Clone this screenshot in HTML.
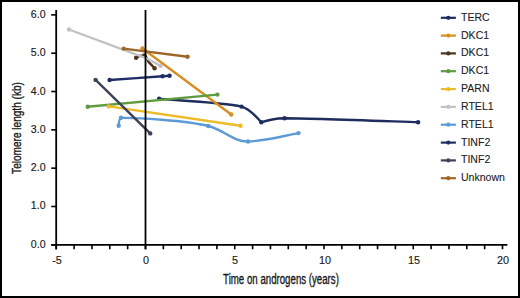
<!DOCTYPE html>
<html><head><meta charset="utf-8"><style>
html,body{margin:0;padding:0;background:#fff;}
body{width:520px;height:298px;position:relative;overflow:hidden;font-family:"Liberation Sans",sans-serif;color:#1a1a1a;}
svg{position:absolute;left:0;top:0;}
.yl{-webkit-text-stroke:0.15px #1a1a1a;position:absolute;right:474.1px;font-size:11.2px;line-height:14px;transform:scaleX(0.945);transform-origin:right center;white-space:nowrap;}
.xl{-webkit-text-stroke:0.15px #1a1a1a;position:absolute;top:253px;width:40px;text-align:center;font-size:11.2px;line-height:14px;transform:scaleX(0.97);white-space:nowrap;}
.lg{-webkit-text-stroke:0.1px #222;color:#222;position:absolute;left:460.6px;font-size:11.1px;line-height:14px;transform:scaleX(0.95);transform-origin:left center;white-space:nowrap;}
.xt{-webkit-text-stroke:0.35px #1a1a1a;position:absolute;left:180.7px;width:200px;top:271px;text-align:center;font-size:14px;line-height:16px;transform:scaleX(0.691);white-space:nowrap;}
.yt{position:absolute;left:17.4px;top:127.5px;width:0;height:0;}
.yt span{-webkit-text-stroke:0.35px #1a1a1a;position:absolute;left:0;top:0;transform:translate(-50%,-50%) rotate(-90deg) scaleX(0.752);font-size:13.4px;line-height:16px;white-space:nowrap;}
</style></head><body>
<svg width="520" height="298" viewBox="0 0 520 298">
<rect x="1" y="1" width="518" height="296" fill="none" stroke="#000" stroke-width="2"/>
<path d="M159.1,98.8 C172.8,100.05 224.5,102.6 241.5,106.6 C247.5,108.1 255,115 261.3,122.3 C266,120.6 276,118.4 284.5,118.2 C310.6,118.2 395.8,121.5 418.1,122.2" fill="none" stroke="#1e2c5e" stroke-width="2.4" stroke-linejoin="round" stroke-linecap="round"/>
<circle cx="159.1" cy="98.8" r="2.2" fill="#1e2c5e"/>
<circle cx="241.5" cy="106.6" r="2.2" fill="#1e2c5e"/>
<circle cx="261.3" cy="122.3" r="2.2" fill="#1e2c5e"/>
<circle cx="284.5" cy="118.2" r="2.2" fill="#1e2c5e"/>
<circle cx="418.1" cy="122.2" r="2.2" fill="#1e2c5e"/>
<path d="M142.5,48.5 L231.2,114.5" fill="none" stroke="#d68e20" stroke-width="2.4" stroke-linejoin="round" stroke-linecap="round"/>
<circle cx="142.5" cy="48.5" r="2.2" fill="#d68e20"/>
<circle cx="231.2" cy="114.5" r="2.2" fill="#d68e20"/>
<path d="M136.1,57.7 C138.5,56.2 141,55.3 144.4,55.4 C146.6,55.5 147,59.8 148.7,62.2 L154.6,68.2" fill="none" stroke="#4d3419" stroke-width="2.4" stroke-linejoin="round" stroke-linecap="round"/>
<circle cx="136.1" cy="57.7" r="2.2" fill="#4d3419"/>
<circle cx="144.4" cy="55.4" r="2.2" fill="#4d3419"/>
<circle cx="154.6" cy="68.2" r="2.2" fill="#4d3419"/>
<path d="M87.7,106.8 L217.4,94.6" fill="none" stroke="#5f9c40" stroke-width="2.4" stroke-linejoin="round" stroke-linecap="round"/>
<circle cx="87.7" cy="106.8" r="2.2" fill="#5f9c40"/>
<circle cx="217.4" cy="94.6" r="2.2" fill="#5f9c40"/>
<path d="M108.8,106.4 L240.5,125.8" fill="none" stroke="#ecbb28" stroke-width="2.4" stroke-linejoin="round" stroke-linecap="round"/>
<circle cx="108.8" cy="106.4" r="2.2" fill="#ecbb28"/>
<circle cx="240.5" cy="125.8" r="2.2" fill="#ecbb28"/>
<path d="M69,29.5 L146.5,58.3 L160.6,65.9" fill="none" stroke="#c2c2c4" stroke-width="2.4" stroke-linejoin="round" stroke-linecap="round"/>
<circle cx="69" cy="29.5" r="2.2" fill="#c2c2c4"/>
<circle cx="160.6" cy="65.9" r="2.2" fill="#c2c2c4"/>
<path d="M118.7,125.7 C118.8,121.5 119.2,118.2 121.5,117.9 C135,117.6 186,120.5 208.3,126.0 C223,129.5 234,142 248.0,141.5 C265,141 283,136 298.5,133.1" fill="none" stroke="#5c9bd5" stroke-width="2.4" stroke-linejoin="round" stroke-linecap="round"/>
<circle cx="118.7" cy="125.7" r="2.2" fill="#5c9bd5"/>
<circle cx="121.0" cy="117.8" r="2.2" fill="#5c9bd5"/>
<circle cx="208.3" cy="126.0" r="2.2" fill="#5c9bd5"/>
<circle cx="248.0" cy="141.5" r="2.2" fill="#5c9bd5"/>
<circle cx="298.5" cy="133.1" r="2.2" fill="#5c9bd5"/>
<path d="M109.6,80.0 C118.4,79.4 152.5,76.9 162.5,76.2 C172.5,75.5 168.4,75.9 169.6,75.8" fill="none" stroke="#1c2e64" stroke-width="2.4" stroke-linejoin="round" stroke-linecap="round"/>
<circle cx="109.6" cy="80.0" r="2.2" fill="#1c2e64"/>
<circle cx="162.5" cy="76.2" r="2.2" fill="#1c2e64"/>
<circle cx="169.6" cy="75.8" r="2.2" fill="#1c2e64"/>
<path d="M95.6,79.9 L150.2,133.4" fill="none" stroke="#3d4257" stroke-width="2.4" stroke-linejoin="round" stroke-linecap="round"/>
<circle cx="95.6" cy="79.9" r="2.2" fill="#3d4257"/>
<circle cx="150.2" cy="133.4" r="2.2" fill="#3d4257"/>
<path d="M123.7,48.6 L187.6,56.8" fill="none" stroke="#9c6828" stroke-width="2.4" stroke-linejoin="round" stroke-linecap="round"/>
<circle cx="123.7" cy="48.6" r="2.2" fill="#9c6828"/>
<circle cx="187.6" cy="56.8" r="2.2" fill="#9c6828"/>
<line x1="145.5" y1="10" x2="145.5" y2="249.3" stroke="#000" stroke-width="1.8"/>
<line x1="56.2" y1="10" x2="56.2" y2="249.3" stroke="#000" stroke-width="1.8"/>
<line x1="51.2" y1="244.8" x2="507.4" y2="244.8" stroke="#000" stroke-width="1.8"/>
<line x1="51.2" y1="244.80" x2="56.2" y2="244.80" stroke="#000" stroke-width="1.6"/>
<line x1="51.2" y1="206.48" x2="56.2" y2="206.48" stroke="#000" stroke-width="1.6"/>
<line x1="51.2" y1="168.16" x2="56.2" y2="168.16" stroke="#000" stroke-width="1.6"/>
<line x1="51.2" y1="129.84" x2="56.2" y2="129.84" stroke="#000" stroke-width="1.6"/>
<line x1="51.2" y1="91.52" x2="56.2" y2="91.52" stroke="#000" stroke-width="1.6"/>
<line x1="51.2" y1="53.20" x2="56.2" y2="53.20" stroke="#000" stroke-width="1.6"/>
<line x1="51.2" y1="14.88" x2="56.2" y2="14.88" stroke="#000" stroke-width="1.6"/>
<line x1="56.25" y1="244.8" x2="56.25" y2="249.3" stroke="#000" stroke-width="1.6"/>
<line x1="74.10" y1="244.8" x2="74.10" y2="249.3" stroke="#000" stroke-width="1.6"/>
<line x1="91.95" y1="244.8" x2="91.95" y2="249.3" stroke="#000" stroke-width="1.6"/>
<line x1="109.80" y1="244.8" x2="109.80" y2="249.3" stroke="#000" stroke-width="1.6"/>
<line x1="127.65" y1="244.8" x2="127.65" y2="249.3" stroke="#000" stroke-width="1.6"/>
<line x1="145.50" y1="244.8" x2="145.50" y2="249.3" stroke="#000" stroke-width="1.6"/>
<line x1="163.35" y1="244.8" x2="163.35" y2="249.3" stroke="#000" stroke-width="1.6"/>
<line x1="181.20" y1="244.8" x2="181.20" y2="249.3" stroke="#000" stroke-width="1.6"/>
<line x1="199.05" y1="244.8" x2="199.05" y2="249.3" stroke="#000" stroke-width="1.6"/>
<line x1="216.90" y1="244.8" x2="216.90" y2="249.3" stroke="#000" stroke-width="1.6"/>
<line x1="234.75" y1="244.8" x2="234.75" y2="249.3" stroke="#000" stroke-width="1.6"/>
<line x1="252.60" y1="244.8" x2="252.60" y2="249.3" stroke="#000" stroke-width="1.6"/>
<line x1="270.45" y1="244.8" x2="270.45" y2="249.3" stroke="#000" stroke-width="1.6"/>
<line x1="288.30" y1="244.8" x2="288.30" y2="249.3" stroke="#000" stroke-width="1.6"/>
<line x1="306.15" y1="244.8" x2="306.15" y2="249.3" stroke="#000" stroke-width="1.6"/>
<line x1="324.00" y1="244.8" x2="324.00" y2="249.3" stroke="#000" stroke-width="1.6"/>
<line x1="341.85" y1="244.8" x2="341.85" y2="249.3" stroke="#000" stroke-width="1.6"/>
<line x1="359.70" y1="244.8" x2="359.70" y2="249.3" stroke="#000" stroke-width="1.6"/>
<line x1="377.55" y1="244.8" x2="377.55" y2="249.3" stroke="#000" stroke-width="1.6"/>
<line x1="395.40" y1="244.8" x2="395.40" y2="249.3" stroke="#000" stroke-width="1.6"/>
<line x1="413.25" y1="244.8" x2="413.25" y2="249.3" stroke="#000" stroke-width="1.6"/>
<line x1="431.10" y1="244.8" x2="431.10" y2="249.3" stroke="#000" stroke-width="1.6"/>
<line x1="448.95" y1="244.8" x2="448.95" y2="249.3" stroke="#000" stroke-width="1.6"/>
<line x1="466.80" y1="244.8" x2="466.80" y2="249.3" stroke="#000" stroke-width="1.6"/>
<line x1="484.65" y1="244.8" x2="484.65" y2="249.3" stroke="#000" stroke-width="1.6"/>
<line x1="502.50" y1="244.8" x2="502.50" y2="249.3" stroke="#000" stroke-width="1.6"/>
<line x1="440.8" y1="17.8" x2="455.9" y2="17.8" stroke="#1e2c5e" stroke-width="2.2"/>
<circle cx="448.3" cy="17.8" r="2.1" fill="#1e2c5e"/>
<line x1="440.8" y1="35.6" x2="455.9" y2="35.6" stroke="#d68e20" stroke-width="2.2"/>
<circle cx="448.3" cy="35.6" r="2.1" fill="#d68e20"/>
<line x1="440.8" y1="53.4" x2="455.9" y2="53.4" stroke="#4d3419" stroke-width="2.2"/>
<circle cx="448.3" cy="53.4" r="2.1" fill="#4d3419"/>
<line x1="440.8" y1="71.2" x2="455.9" y2="71.2" stroke="#5f9c40" stroke-width="2.2"/>
<circle cx="448.3" cy="71.2" r="2.1" fill="#5f9c40"/>
<line x1="440.8" y1="89.1" x2="455.9" y2="89.1" stroke="#ecbb28" stroke-width="2.2"/>
<circle cx="448.3" cy="89.1" r="2.1" fill="#ecbb28"/>
<line x1="440.8" y1="106.9" x2="455.9" y2="106.9" stroke="#c2c2c4" stroke-width="2.2"/>
<circle cx="448.3" cy="106.9" r="2.1" fill="#c2c2c4"/>
<line x1="440.8" y1="124.7" x2="455.9" y2="124.7" stroke="#5c9bd5" stroke-width="2.2"/>
<circle cx="448.3" cy="124.7" r="2.1" fill="#5c9bd5"/>
<line x1="440.8" y1="142.6" x2="455.9" y2="142.6" stroke="#1c2e64" stroke-width="2.2"/>
<circle cx="448.3" cy="142.6" r="2.1" fill="#1c2e64"/>
<line x1="440.8" y1="160.4" x2="455.9" y2="160.4" stroke="#3d4257" stroke-width="2.2"/>
<circle cx="448.3" cy="160.4" r="2.1" fill="#3d4257"/>
<line x1="440.8" y1="178.2" x2="455.9" y2="178.2" stroke="#9c6828" stroke-width="2.2"/>
<circle cx="448.3" cy="178.2" r="2.1" fill="#9c6828"/>
</svg>
<div class="yl" style="top:236.80px">0.0</div>
<div class="yl" style="top:198.48px">1.0</div>
<div class="yl" style="top:160.16px">2.0</div>
<div class="yl" style="top:121.84px">3.0</div>
<div class="yl" style="top:83.52px">4.0</div>
<div class="yl" style="top:45.20px">5.0</div>
<div class="yl" style="top:6.88px">6.0</div>
<div class="xl" style="left:36.9px">-5</div>
<div class="xl" style="left:126.1px">0</div>
<div class="xl" style="left:215.3px">5</div>
<div class="xl" style="left:304.6px">10</div>
<div class="xl" style="left:393.9px">15</div>
<div class="xl" style="left:483.1px">20</div>
<div class="lg" style="top:9.8px">TERC</div>
<div class="lg" style="top:27.6px">DKC1</div>
<div class="lg" style="top:45.4px">DKC1</div>
<div class="lg" style="top:63.2px">DKC1</div>
<div class="lg" style="top:81.1px">PARN</div>
<div class="lg" style="top:98.9px">RTEL1</div>
<div class="lg" style="top:116.7px">RTEL1</div>
<div class="lg" style="top:134.6px">TINF2</div>
<div class="lg" style="top:152.4px">TINF2</div>
<div class="lg" style="top:170.2px">Unknown</div>
<div class="xt">Time on androgens (years)</div>
<div class="yt"><span>Telomere length (kb)</span></div>
</body></html>
